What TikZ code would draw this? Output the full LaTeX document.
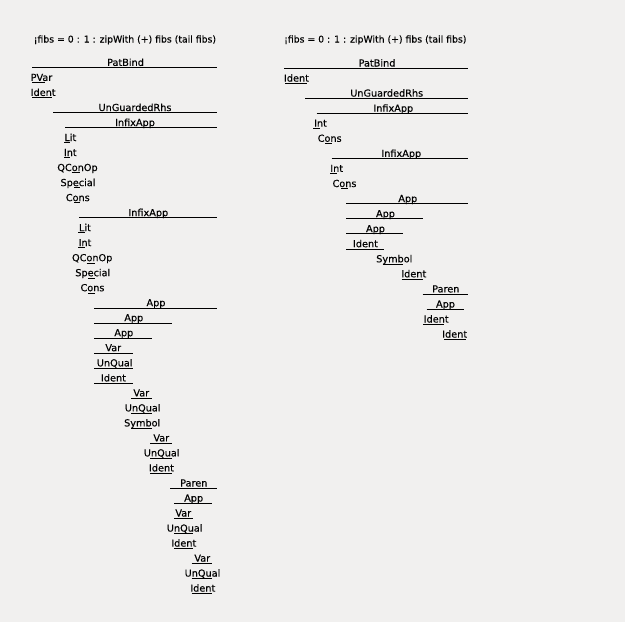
\documentclass[tikz,border=0pt]{standalone}
\usepackage{fontspec}
\setmainfont{DejaVu Sans}
\newfontfamily\labfont{DejaVu Sans}[FakeBold=0.25]
\definecolor{bg}{RGB}{241,240,239}
\tikzset{
  lab/.style={anchor=base, inner sep=0pt, outer sep=0pt, font=\labfont\fontsize{9.7}{11}\selectfont, text=black},
  hdr/.style={anchor=base, inner sep=0pt, outer sep=0pt, font=\labfont\fontsize{9.3}{11}\selectfont, text=black},
  ul/.style={draw=black, line width=0.9pt}
}
\newcommand\lab[6]{%
  \node[lab] (#1) at (#3, #2-1.8) {#6};
  \draw[ul] (#4, #2) -- (#5, #2);
}
\begin{document}
\begin{tikzpicture}[x=1pt, y=-1pt]
\path[fill=bg] (0,0) rectangle (625,622);
\useasboundingbox (0,0) rectangle (625,622);
% headers
\node[hdr] (hl) at (124.9, 42.5) {¡fibs = 0 : 1 : zipWith (+) fibs (tail fibs)};
\node[hdr] (hr) at (375.3, 42.5) {¡fibs = 0 : 1 : zipWith (+) fibs (tail fibs)};
% left tree
\lab{a1}{67.7}{125.5}{32}{217}{PatBind}
\lab{a2}{82.7}{41.5}{32}{45}{PVar}
\lab{a3}{97.7}{43.2}{32}{52}{Ident}
\lab{a4}{112.8}{135}{53}{217}{UnGuardedRhs}
\lab{a5}{127.8}{135}{65}{217}{InfixApp}
\lab{a6}{142.8}{70.3}{64}{70}{Lit}
\lab{a7}{157.8}{70.3}{64}{70}{Int}
\lab{a8}{172.8}{77.5}{71.7}{80}{QConOp}
\lab{a9}{187.9}{78}{74.3}{80}{Special}
\lab{a10}{202.9}{77.8}{74.3}{80}{Cons}
\lab{a11}{217.9}{148.3}{79.3}{217}{InfixApp}
\lab{a12}{232.9}{85}{78.3}{85}{Lit}
\lab{a13}{247.9}{85}{78.3}{85}{Int}
\lab{a14}{263.0}{92.2}{86.7}{95}{QConOp}
\lab{a15}{278.0}{92.8}{88.3}{95}{Special}
\lab{a16}{293.0}{92.5}{88.3}{95}{Cons}
\lab{a17}{308.0}{156}{94.3}{217}{App}
\lab{a18}{323.0}{133.8}{94.3}{171.7}{App}
\lab{a19}{338.0}{123.8}{94.3}{151.7}{App}
\lab{a20}{353.0}{113.3}{94.3}{132.7}{Var}
\lab{a21}{368.2}{114.7}{94.3}{132.7}{UnQual}
\lab{a22}{383.2}{113.5}{94.3}{132.7}{Ident}
\lab{a23}{398.2}{141.3}{131}{151.7}{Var}
\lab{a24}{413.2}{142.7}{131}{151.7}{UnQual}
\lab{a25}{428.2}{142.2}{131}{151.7}{Symbol}
\lab{a26}{443.2}{161.3}{150}{171.7}{Var}
\lab{a27}{458.2}{161.7}{150}{171.7}{UnQual}
\lab{a28}{473.2}{161.5}{150}{171.7}{Ident}
\lab{a29}{488.3}{193.8}{170}{216.7}{Paren}
\lab{a30}{503.3}{193.7}{174.3}{212.3}{App}
\lab{a31}{518.3}{183.3}{174.3}{192.7}{Var}
\lab{a32}{533.4}{184.7}{174.3}{192.7}{UnQual}
\lab{a33}{548.4}{183.8}{174.3}{192.7}{Ident}
\lab{a34}{563.4}{202.3}{191.7}{212.3}{Var}
\lab{a35}{578.4}{202.5}{191.7}{212.3}{UnQual}
\lab{a36}{593.4}{202.8}{191.7}{212.3}{Ident}
% right tree
\lab{b1}{68.3}{377}{284.3}{468.3}{PatBind}
\lab{b2}{83.4}{296.5}{285}{306.7}{Ident}
\lab{b3}{98.4}{386.7}{305}{468.3}{UnGuardedRhs}
\lab{b4}{113.5}{393.3}{316.7}{468.3}{InfixApp}
\lab{b5}{128.5}{320.5}{313.3}{320}{Int}
\lab{b6}{143.6}{329.7}{325}{331.7}{Cons}
\lab{b7}{158.7}{401.3}{331.7}{468.3}{InfixApp}
\lab{b8}{173.7}{336.7}{330}{336.7}{Int}
\lab{b9}{188.8}{344.5}{341}{347.7}{Cons}
\lab{b10}{203.8}{407.8}{346}{468.3}{App}
\lab{b11}{218.9}{385.5}{346}{423.3}{App}
\lab{b12}{233.9}{375.5}{346}{403.3}{App}
\lab{b13}{249.0}{365.5}{346}{384.3}{Ident}
\lab{b14}{264.1}{394.3}{382.7}{403.3}{Symbol}
\lab{b15}{279.1}{413.8}{401.7}{423.3}{Ident}
\lab{b16}{294.2}{445.8}{422.7}{468.3}{Paren}
\lab{b17}{309.3}{445.5}{426.7}{464.3}{App}
\lab{b18}{324.3}{436.2}{423.3}{444}{Ident}
\lab{b19}{339.4}{454.7}{444}{465.7}{Ident}
\end{tikzpicture}
\end{document}
